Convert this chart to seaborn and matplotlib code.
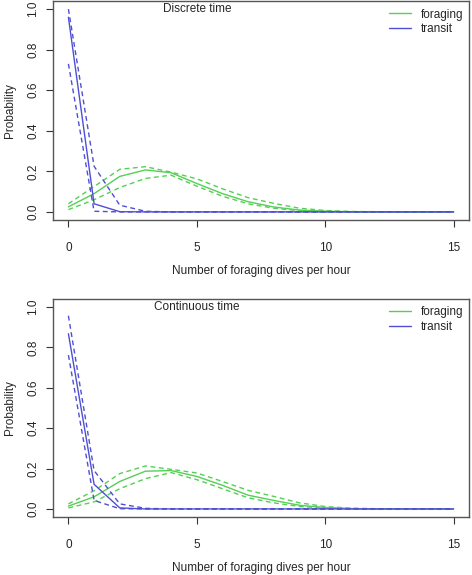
import numpy as np
import pandas as pd
import seaborn as sns
import matplotlib
matplotlib.use("Agg")
import matplotlib.pyplot as plt

# number of foraging dives per hour
dives = list(range(16))

# discrete time model
disc_forage = [0.025, 0.09, 0.175, 0.207, 0.193, 0.14, 0.09, 0.05, 0.024, 0.009, 0.003, 0.001, 0, 0, 0, 0]
disc_forage_hi = [0.04, 0.125, 0.21, 0.223, 0.196, 0.163, 0.114, 0.07, 0.042, 0.018, 0.007, 0.002, 0.001, 0, 0, 0]
disc_forage_lo = [0.011, 0.06, 0.12, 0.165, 0.181, 0.127, 0.077, 0.04, 0.018, 0.006, 0.002, 0, 0, 0, 0, 0]
disc_transit = [0.96, 0.04, 0.001, 0, 0, 0, 0, 0, 0, 0, 0, 0, 0, 0, 0, 0]
disc_transit_hi = [1.0, 0.225, 0.033, 0.003, 0, 0, 0, 0, 0, 0, 0, 0, 0, 0, 0, 0]
disc_transit_lo = [0.73, 0.003, 0, 0, 0, 0, 0, 0, 0, 0, 0, 0, 0, 0, 0, 0]

# continuous time model
cont_forage = [0.014, 0.06, 0.136, 0.187, 0.19, 0.161, 0.117, 0.068, 0.042, 0.018, 0.007, 0.002, 0, 0, 0, 0]
cont_forage_hi = [0.025, 0.09, 0.175, 0.213, 0.196, 0.178, 0.136, 0.092, 0.062, 0.03, 0.012, 0.004, 0.001, 0, 0, 0]
cont_forage_lo = [0.005, 0.035, 0.1, 0.15, 0.18, 0.145, 0.1, 0.055, 0.03, 0.012, 0.004, 0.001, 0, 0, 0, 0]
cont_transit = [0.868, 0.122, 0.005, 0, 0, 0, 0, 0, 0, 0, 0, 0, 0, 0, 0, 0]
cont_transit_hi = [0.957, 0.19, 0.025, 0.003, 0, 0, 0, 0, 0, 0, 0, 0, 0, 0, 0, 0]
cont_transit_lo = [0.762, 0.042, 0.001, 0, 0, 0, 0, 0, 0, 0, 0, 0, 0, 0, 0, 0]

GREEN = "#55cf55"
BLUE = "#4f4fd6"

sns.set_style("white")
plt.rcParams['font.family'] = ['Liberation Sans', 'DejaVu Sans']
plt.rcParams['font.size'] = 8.5


def draw_panel(ax, title, forage, forage_hi, forage_lo, transit, transit_hi, transit_lo):
    series = [
        (forage, GREEN, "-", "foraging"),
        (forage_hi, GREEN, "--", None),
        (forage_lo, GREEN, "--", None),
        (transit, BLUE, "-", "transit"),
        (transit_hi, BLUE, "--", None),
        (transit_lo, BLUE, "--", None),
    ]
    for vals, col, ls, lab in series:
        df = pd.DataFrame({"x": dives, "p": vals})
        line = sns.lineplot(data=df, x="x", y="p", ax=ax, color=col, linewidth=1.0,
                            label=lab, legend=False)
        if ls == "--":
            line.lines[-1].set_dashes((3.5, 2.5))
    ax.set_xlim(-0.6, 15.6)
    ax.set_ylim(-0.04, 1.04)
    ax.set_xticks([0, 5, 10, 15])
    ax.set_yticks([0, 0.2, 0.4, 0.6, 0.8, 1.0])
    ax.set_yticklabels(["0.0", "0.2", "0.4", "0.6", "0.8", "1.0"], rotation=90, va="center")
    ax.tick_params(direction="out", length=5, width=0.8, color="#333333",
                   labelsize=8.5, bottom=True, left=True)
    ax.tick_params(axis="x", pad=10.5)
    ax.tick_params(axis="y", pad=5)
    for s in ax.spines.values():
        s.set_color("#555555")
        s.set_linewidth(1.0)
    ax.set_xlabel("Number of foraging dives per hour", fontsize=8.5)
    ax.set_ylabel("Probability", fontsize=8.5)
    ax.xaxis.set_label_coords(0.5, -0.205)
    ax.yaxis.set_label_coords(-0.09, 0.5)
    ax.text(5, 1.0, title, ha="center", va="center", fontsize=8.5)
    ax.legend(loc="upper right", frameon=False, fontsize=8.5, handlelength=1.8,
              handletextpad=0.9, borderaxespad=0.05, labelspacing=0.2,
              bbox_to_anchor=(1.0, 0.99))


fig = plt.figure(figsize=(4.72, 5.75), dpi=100)
ax1 = fig.add_axes([53 / 472, 1 - 220 / 575, 416 / 472, 219 / 575])
ax2 = fig.add_axes([53 / 472, 1 - 517 / 575, 416 / 472, 218 / 575])

draw_panel(ax1, "Discrete time", disc_forage, disc_forage_hi, disc_forage_lo,
           disc_transit, disc_transit_hi, disc_transit_lo)
draw_panel(ax2, "Continuous time", cont_forage, cont_forage_hi, cont_forage_lo,
           cont_transit, cont_transit_hi, cont_transit_lo)

fig.savefig("out.png", dpi=100)
